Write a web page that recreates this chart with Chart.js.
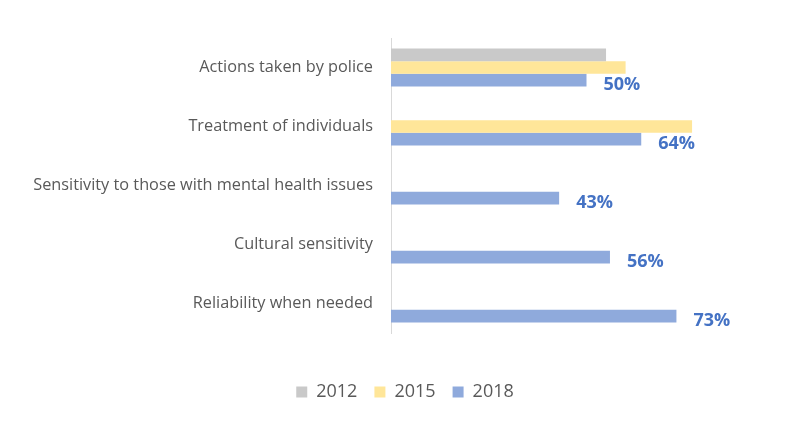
<!DOCTYPE html>
<html>
<head>
<meta charset="utf-8">
<script src="https://cdn.jsdelivr.net/npm/chart.js@4.4.1/dist/chart.umd.min.js"></script>
<style>
	html, body { margin: 0; padding: 0; background: #fff; }
	#wrap { width: 785px; height: 427px; }
</style>
</head>
<body>
<div id="wrap"><canvas id="chart" width="785" height="427"></canvas></div>
<script>
const categories = [
	"Actions taken by police",
	"Treatment of individuals",
	"Sensitivity to those with mental health issues",
	"Cultural sensitivity",
	"Reliability when needed"
];
const series_names = ["2012", "2015", "2018"];
const values_2012 = [55, null, null, null, null];
const values_2015 = [60, 77, null, null, null];
const values_2018 = [50, 64, 43, 56, 73];

const font_name = "'Open Sans', 'Noto Sans', sans-serif";

// percent labels next to the 2018 bars
const bar_labels = {
	id: "bar_labels",
	afterDatasetsDraw(chart) {
		let ctx = chart.ctx;
		let meta = chart.getDatasetMeta(2);
		ctx.save();
		ctx.font = "bold 18px " + font_name;
		ctx.fillStyle = "#4472C4";
		ctx.textAlign = "left";
		ctx.textBaseline = "middle";
		meta.data.forEach((bar, i) => {
			if (values_2018[i] == null) return;
			ctx.fillText(values_2018[i] + "%", bar.x + 17, bar.y + 5);
		});
		ctx.restore();
	}
};

const config = {
	type: "bar",
	data: {
		labels: categories,
		datasets: [
			{ label: series_names[0], data: values_2012, backgroundColor: "#C9C9C9" },
			{ label: series_names[1], data: values_2015, backgroundColor: "#FFE699" },
			{ label: series_names[2], data: values_2018, backgroundColor: "#8FAADC" }
		]
	},
	options: {
		indexAxis: "y",
		responsive: false,
		animation: false,
		categoryPercentage: 0.64,
		barPercentage: 1.0,
		layout: {
			padding: { top: 38, right: 3, bottom: 16, left: 28 }
		},
		scales: {
			x: {
				min: 0,
				max: 100,
				ticks: { display: false },
				grid: { display: false },
				border: { display: false },
				afterFit: scale => { scale.height = 33; }
			},
			y: {
				grid: { display: false },
				border: { display: true, color: "#D9D9D9", width: 1 },
				ticks: {
					color: "#595959",
					padding: 10,
					font: { family: font_name, size: 16.3 }
				},
				afterFit: scale => { scale.width = 363; }
			}
		},
		plugins: {
			legend: {
				position: "bottom",
				labels: {
					boxWidth: 11,
					boxHeight: 11,
					padding: 17,
					color: "#595959",
					font: { family: font_name, size: 18 }
				}
			},
			tooltip: { enabled: false }
		}
	},
	plugins: [bar_labels]
};

new Chart(document.getElementById("chart"), config);
</script>
</body>
</html>
